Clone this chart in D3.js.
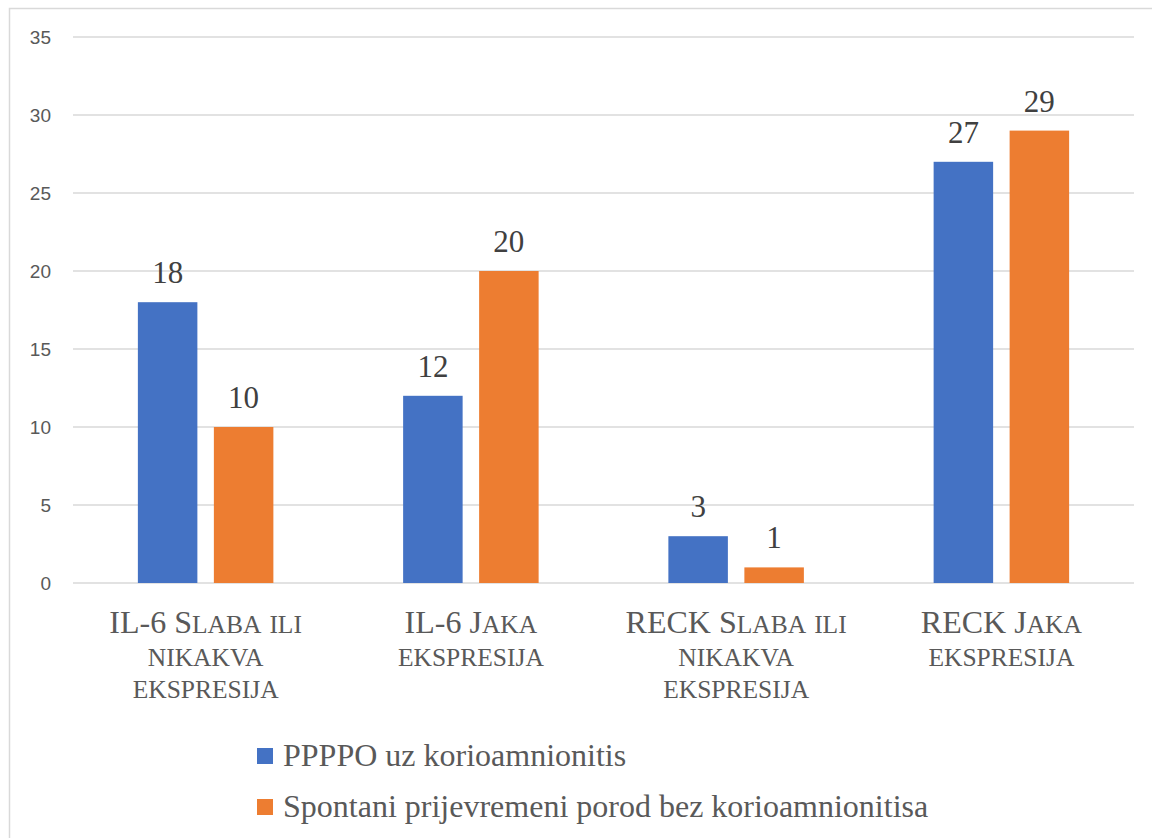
<!DOCTYPE html>
<html>
<head>
<meta charset="utf-8">
<script src="https://cdn.jsdelivr.net/npm/d3@7"></script>
<style>
  body { margin: 0; background: #fff; }
  svg { display: block; }
</style>
</head>
<body>
<script>
// categories (each one split into the lines shown under the axis)
var categories = [
    "IL-6 Slaba ili nikakva ekspresija",
    "IL-6 Jaka ekspresija",
    "RECK Slaba ili nikakva ekspresija",
    "RECK Jaka ekspresija"
];
var categoryLines = [
    ["IL-6 Slaba ili", "nikakva", "ekspresija"],
    ["IL-6 Jaka", "ekspresija"],
    ["RECK Slaba ili", "nikakva", "ekspresija"],
    ["RECK Jaka", "ekspresija"]
];
var seriesNames = ["PPPPO uz korioamnionitis", "Spontani prijevremeni porod bez korioamnionitisa"];
var ppppo = [18, 12, 3, 27];
var spontani = [10, 20, 1, 29];
var yTicks = [0, 5, 10, 15, 20, 25, 30, 35];
var colors = ["#4472C4", "#ED7D31"];

var width = 1152, height = 838;
var plotLeft = 73, plotRight = 1134, plotTop = 37, plotBottom = 583;
var serif = "'Liberation Serif', 'Times New Roman', serif";

var svg = d3.select("body")
    .append("svg")
    .attr("width", width)
    .attr("height", height);

// chart border
svg.append("rect")
    .attr("x", 9.5)
    .attr("y", 8.5)
    .attr("width", 1150)
    .attr("height", 840)
    .attr("fill", "none")
    .attr("stroke", "#d9d9d9")
    .attr("stroke-width", 1.5);

var y = d3.scaleLinear().domain([0, 35]).range([plotBottom, plotTop]);
var x0 = d3.scaleBand().domain(categories).range([plotLeft, plotRight]);
var x1 = d3.scaleBand().domain(seriesNames)
    .range([-67.75, 67.75])
    .paddingInner(0.217);

// gridlines
svg.selectAll(".grid")
    .data(yTicks)
    .enter()
    .append("line")
    .attr("class", "grid")
    .attr("x1", plotLeft)
    .attr("x2", plotRight)
    .attr("y1", function(d) { return y(d); })
    .attr("y2", function(d) { return y(d); })
    .attr("stroke", "#d9d9d9")
    .attr("stroke-width", 1.5);

// y axis labels
var yAxis = d3.axisLeft(y).tickValues(yTicks).tickSize(0).tickPadding(0);
var ya = svg.append("g")
    .attr("transform", "translate(51,0)")
    .call(yAxis);
ya.select(".domain").remove();
ya.selectAll("text")
    .attr("font-family", "'Liberation Sans', Arial, sans-serif")
    .attr("font-size", 19)
    .attr("fill", "#595959")
    .attr("dy", "0.35em");

var rows = categories.map(function(c, i) {
    return { cat: c, values: [ppppo[i], spontani[i]] };
});

var groups = svg.selectAll(".cat")
    .data(rows)
    .enter()
    .append("g")
    .attr("class", "cat")
    .attr("transform", function(d) { return "translate(" + (x0(d.cat) + x0.bandwidth() / 2) + ",0)"; });

groups.selectAll("rect")
    .data(function(d) { return d.values.map(function(v, j) { return { s: seriesNames[j], v: v, j: j }; }); })
    .enter()
    .append("rect")
    .attr("x", function(d) { return x1(d.s); })
    .attr("width", x1.bandwidth())
    .attr("y", function(d) { return y(d.v); })
    .attr("height", function(d) { return y(0) - y(d.v); })
    .attr("fill", function(d) { return colors[d.j]; });

groups.selectAll(".val")
    .data(function(d) { return d.values.map(function(v, j) { return { s: seriesNames[j], v: v }; }); })
    .enter()
    .append("text")
    .attr("class", "val")
    .attr("x", function(d) { return x1(d.s) + x1.bandwidth() / 2; })
    .attr("y", function(d) { return y(d.v) - 19; })
    .attr("text-anchor", "middle")
    .attr("font-family", serif)
    .attr("font-size", 31)
    .attr("fill", "#404040")
    .text(function(d) { return d.v; });

// category labels, small caps drawn by hand (lowercase -> smaller capitals)
var capSize = 32, smallSize = 25.5;
groups.each(function(d, i) {
    var t = d3.select(this).append("text")
        .attr("text-anchor", "middle")
        .attr("font-family", serif)
        .attr("fill", "#595959");
    categoryLines[i].forEach(function(line, k) {
        var runs = line.match(/[a-z]+|[^a-z]+/g);
        runs.forEach(function(r, m) {
            var ts = t.append("tspan")
                .attr("font-size", /[a-z]/.test(r) ? smallSize : capSize)
                .text(r.toUpperCase());
            if (m === 0) ts.attr("x", 0).attr("y", 633 + k * 32.5);
        });
    });
});

// legend
var legend = svg.selectAll(".legend")
    .data(seriesNames)
    .enter()
    .append("g")
    .attr("class", "legend")
    .attr("transform", function(d, i) { return "translate(257," + (748 + i * 51) + ")"; });

legend.append("rect")
    .attr("width", 16)
    .attr("height", 16)
    .attr("fill", function(d, i) { return colors[i]; });

legend.append("text")
    .attr("x", 26)
    .attr("y", 17.5)
    .attr("font-family", serif)
    .attr("font-size", 32)
    .attr("fill", "#595959")
    .text(function(d) { return d; });
</script>
</body>
</html>
